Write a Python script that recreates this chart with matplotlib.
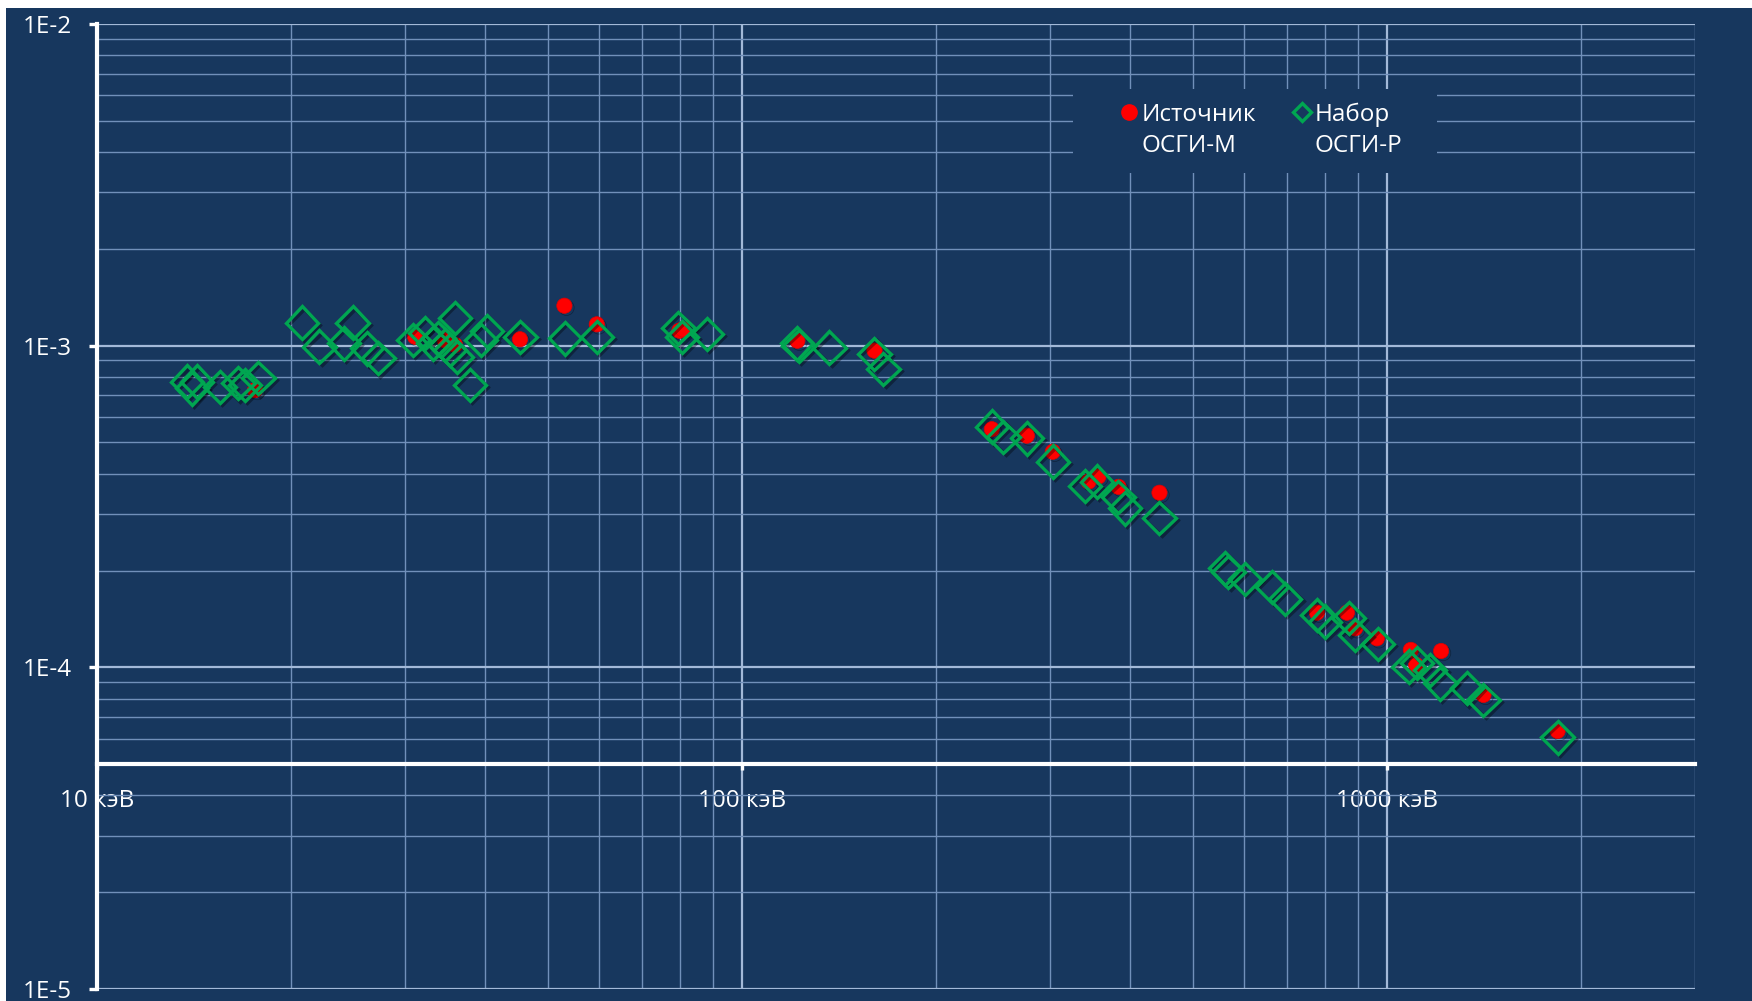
import matplotlib
matplotlib.use("Agg")
import matplotlib.pyplot as plt
import matplotlib.patheffects as pe
from matplotlib.patches import Rectangle
from matplotlib.lines import Line2D
from matplotlib.ticker import FixedLocator, LogLocator, NullFormatter

plt.rcParams['font.family'] = ['Open Sans', 'DejaVu Sans']

# ---- data ----
green_x = [13.78, 14.03, 14.28, 15.51, 16.56, 16.96, 17.79,
           20.77, 22.12, 24.15, 24.91, 26.19, 27.30,
           30.93, 32.24, 33.22, 33.82, 34.64, 35.27, 35.89, 36.12, 37.87, 39.38, 40.24,
           45.32, 53.16, 59.53, 79.64, 80.62, 88.18, 121.6, 122.3, 136.6, 160.4, 165.6,
           243.8, 254.2, 276.3, 303.1, 340.3, 354.7, 383.2, 392.5, 443.6,
           560.9, 567.5, 602.2, 662.5, 694.9, 778.1, 801.5, 871.0, 892.1, 967.3,
           1079, 1112, 1166, 1209, 1329, 1410, 1837]
green_y = [7.73e-4, 7.37e-4, 7.73e-4, 7.45e-4, 7.64e-4, 7.55e-4, 7.92e-4,
           1.179e-3, 9.93e-4, 1.017e-3, 1.179e-3, 9.81e-4, 9.14e-4,
           1.041e-3, 1.093e-3, 1.017e-3, 1.054e-3, 1.005e-3, 9.70e-4, 1.217e-3, 9.24e-4, 7.55e-4, 1.041e-3, 1.111e-3,
           1.064e-3, 1.054e-3, 1.066e-3, 1.133e-3, 1.066e-3, 1.087e-3, 1.017e-3, 9.98e-4, 9.86e-4, 9.42e-4, 8.45e-4,
           5.60e-4, 5.21e-4, 5.15e-4, 4.36e-4, 3.66e-4, 3.78e-4, 3.39e-4, 3.12e-4, 2.91e-4,
           2.03e-4, 1.98e-4, 1.88e-4, 1.78e-4, 1.63e-4, 1.455e-4, 1.387e-4, 1.421e-4, 1.261e-4, 1.182e-4,
           1.005e-4, 1.030e-4, 9.81e-5, 8.92e-5, 8.61e-5, 7.92e-5, 6.06e-5]

red_x = [17.58, 31.12, 34.6, 35.89, 45.26, 53.03, 59.53, 79.94, 80.90, 121.8,
         160.4, 243.8, 276.3, 303.1, 344.4, 356.7, 383.2, 443.6,
         778.1, 866.0, 892.1, 963.9, 1088, 1109, 1212, 1410, 1837]
red_y = [7.28e-4, 1.066e-3, 1.04e-3, 1.005e-3, 1.047e-3, 1.331e-3, 1.165e-3, 1.113e-3, 1.124e-3, 1.036e-3,
         9.65e-4, 5.50e-4, 5.25e-4, 4.68e-4, 3.78e-4, 3.92e-4, 3.64e-4, 3.49e-4,
         1.479e-4, 1.479e-4, 1.323e-4, 1.231e-4, 1.133e-4, 1.017e-4, 1.124e-4, 8.21e-5, 6.34e-5]

red_label = ["Источник", "ОСГИ-М"]
green_label = ["Набор", "ОСГИ-Р"]

x_ticks = [10, 100, 1000]
x_ticklabels = ["10 кэВ", "100 кэВ", "1000 кэВ"]
y_ticks = [1e-5, 1e-4, 1e-3, 1e-2]
y_ticklabels = ["1E-5", "1E-4", "1E-3", "1E-2"]

# ---- style ----
NAVY = '#17375E'
RED = '#FF0000'
GREEN = '#00A651'
FS = 17.5
W, H = 1752, 1001
fig = plt.figure(figsize=(W / 100, H / 100), dpi=100, facecolor='white')
fig.patches.append(Rectangle((6 / W, 0), 1, 1 - 8 / H, transform=fig.transFigure,
                             facecolor=NAVY, edgecolor='none', zorder=-10))

ax = fig.add_axes([97 / W, 1 - 989 / H, (1695 - 97) / W, (989 - 24) / H])
ax.set_facecolor(NAVY)
ax.set_xscale('log')
ax.set_yscale('log')
ax.set_xlim(10, 3000)
ax.set_ylim(1e-5, 1e-2)

ax.xaxis.set_major_locator(FixedLocator(x_ticks))
ax.set_xticklabels(x_ticklabels)
ax.yaxis.set_major_locator(FixedLocator(y_ticks))
ax.set_yticklabels(y_ticklabels)
ax.xaxis.set_minor_locator(LogLocator(base=10, subs=range(2, 10)))
ax.yaxis.set_minor_locator(LogLocator(base=10, subs=range(2, 10)))
ax.xaxis.set_minor_formatter(NullFormatter())
ax.yaxis.set_minor_formatter(NullFormatter())

ax.grid(which='major', color='#A3B9D8', linewidth=1.6, zorder=0)
ax.grid(which='minor', color='#7190BA', linewidth=1.0, zorder=0)
ax.set_axisbelow(True)

for s in ['top', 'right']:
    ax.spines[s].set_visible(False)
ax.spines['left'].set_color('white')
ax.spines['left'].set_linewidth(3)
ax.spines['bottom'].set_color('white')
ax.spines['bottom'].set_linewidth(3)
ax.spines['bottom'].set_position(('data', 5e-5))
for s in ['left', 'bottom']:
    ax.spines[s].set_zorder(5)

ax.tick_params(which='major', colors='white', labelcolor='white', labelsize=FS,
               length=6, width=2.4, direction='out')
ax.tick_params(axis='y', which='major', pad=12)
ax.tick_params(axis='x', which='major', pad=14, length=4)
ax.tick_params(which='minor', length=0)

shadow = [pe.SimpleLineShadow(offset=(1.5, -1.5), shadow_color='black', alpha=0.35), pe.Normal()]

ax.plot(red_x, red_y, linestyle='none', marker='o', markersize=11,
        markerfacecolor=RED, markeredgecolor='#E00000', markeredgewidth=0.5,
        zorder=3, path_effects=shadow)
ax.plot(green_x, green_y, linestyle='none', marker='D', markersize=16.5,
        markerfacecolor='none', markeredgecolor=GREEN, markeredgewidth=2.4,
        zorder=4, path_effects=shadow)

# legend background (hides grid)
ax.add_patch(Rectangle((0.6108, 0.8456), 0.2277, 0.087, transform=ax.transAxes,
                       facecolor=NAVY, edgecolor='none', zorder=1))

# legend: first line with marker, second line without
h_red = Line2D([], [], linestyle='none', marker='o', markersize=11,
               markerfacecolor=RED, markeredgecolor=RED)
h_green = Line2D([], [], linestyle='none', marker='D', markersize=9,
                 markerfacecolor='none', markeredgecolor=GREEN, markeredgewidth=2.4)
h_blank = Line2D([], [], linestyle='none')
handles = [h_red, h_blank, h_green, h_blank]
labels = [red_label[0], red_label[1], green_label[0], green_label[1]]
leg = ax.legend(handles, labels, loc='upper left', bbox_to_anchor=(0.6311, 0.9326), ncol=2,
                frameon=False, fontsize=FS, borderaxespad=0, borderpad=0.55,
                columnspacing=1.5, handletextpad=0.12, handlelength=0.8, labelspacing=0.3)
for t in leg.get_texts():
    t.set_color('white')
leg.set_zorder(6)

fig.savefig('out.png', dpi=100, facecolor='white')
